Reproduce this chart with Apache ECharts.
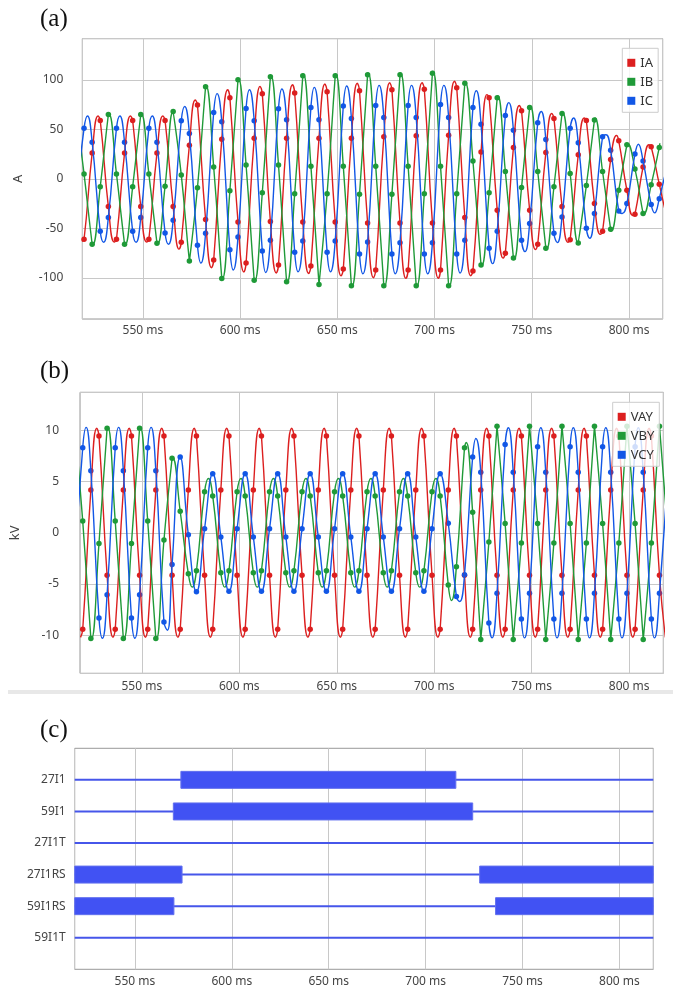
<!DOCTYPE html>
<html><head><meta charset="utf-8">
<script src="https://cdn.jsdelivr.net/npm/echarts@6/dist/echarts.min.js"></script>
<style>html,body{margin:0;padding:0;background:#fff}#c{width:673px;height:989px}</style>
</head><body><div id="c"></div>
<script>
// ---- sample clock (ms) shared by all analog channels ----
const sampleMs = [519.7,523.87,528.03,532.2,536.37,540.53,544.7,548.87,553.03,557.2,561.37,565.53,569.7,573.87,578.03,582.2,586.37,590.53,594.7,598.87,603.03,607.2,611.37,615.53,619.7,623.87,628.03,632.2,636.37,640.53,644.7,648.87,653.03,657.2,661.37,665.53,669.7,673.87,678.03,682.2,686.37,690.53,694.7,698.87,703.03,707.2,711.37,715.53,719.7,723.87,728.03,732.2,736.37,740.53,744.7,748.87,753.03,757.2,761.37,765.53,769.7,773.87,778.03,782.2,786.37,790.53,794.7,798.87,803.03,807.2,811.37,815.53];

// ---- (a) currents, A ----
const iaSamples = [-61,26,59,-28,-61,26,59,-28,-61,26,59,-28,
 -64,34,74.5,-41,-82,40,82,-43.5,-85,41,86,-43,
 -87,41,86.7,-43.5,-88,41,88,-43.5,-91,41,89,-44.5,
 -92,42.5,90,-44.5,-92,43.5,90.4,-44.5,-92,44,92,-39,
 -93,27,82,-31.7,-75,31.7,68.8,-31.7,-66,26.6,61,-28,
 -61.4,24.3,59,-25,-53,19.6,38.4,-11.5,-35.7,12,32.4,-5.4];
const ibSamples = [5,-66,-8,65,5,-66,-8,65,5,-65,-7.5,68,
 4,-83,-9,93,12,-100.5,-12,100,14,-102.5,-14,103,
 14,-104,-15,104,12.8,-106.6,-15,104,12.8,-108,-15.5,105,
 12.8,-108,-15.5,105,12.8,-108,-15,106.6,12.8,-108,-15,96.5,
 18,-87,-14,82,7.4,-80,-8.8,72,7.4,-70,-8,66,
 5.4,-64.8,-6.7,59.4,7.4,-51,-11.5,34.4,10,-35,-6,31.7];
const icSamples = [51,37,-53,-39,51,37,-53,-39,51,37,-54.6,-41.8,
 58.7,45.9,-67,-55,67,57.7,-71.5,-58.7,71,58.7,-72.8,-62,
 70.8,59.7,-74,-62.7,72,59.7,-74,-62.7,73.5,61,-76,-63.7,
 74,62,-76,-64.4,74,62,-76,-64.4,75,62,-76,-62,
 72,55,-70,-53,64,49,-62,-45,56.7,39.8,-55,-38.4,
 51,36.4,-50,-35,42.5,29,-32.4,-25,25,18,-26,-20];
// crests and troughs of the drawn curves [ms, A]
const iaPeaks = [[518.57,-63],[526.91,63.4],[535.24,-63.7],[543.57,63.4],[551.91,-63.7],[560.24,63.4],[568.57,-71],[576.91,79.6],[585.24,-89.7],[593.57,90],[601.91,-94],[610.24,93.4],[618.57,-95],[626.91,95],[635.24,-95.5],[643.57,95.8],[651.91,-98],[660.24,96.5],[668.57,-99.8],[676.91,97],[685.24,-100.5],[693.57,97],[701.91,-100.5],[710.24,98.5],[718.57,-97.8],[726.91,85],[735.24,-80],[743.57,74],[751.91,-71.5],[760.24,66],[768.57,-64],[776.91,61.4],[785.24,-56],[793.57,43.8],[801.91,-37],[810.24,34.4],[818.57,-32]];
const ibPeaks = [[515.83,66],[524.16,-66.5],[532.49,65.5],[540.83,-66.5],[549.16,65.5],[557.49,-66],[565.83,68],[574.16,-83.3],[582.49,93.5],[590.83,-101],[599.16,100.5],[607.49,-103],[615.83,104],[624.16,-104.5],[632.49,106],[640.83,-107],[649.16,106],[657.49,-108.6],[665.83,107],[674.16,-108.6],[682.49,107],[690.83,-108.6],[699.16,108.6],[707.49,-108.6],[715.83,97],[724.16,-88],[732.49,84],[740.83,-81.6],[749.16,73.5],[757.49,-71.5],[765.83,66.8],[774.16,-64.8],[782.49,61.4],[790.83,-52.6],[799.16,35.7],[807.49,-35.7],[815.83,36]];
const icPeaks = [[513.12,-63.5],[521.45,63.5],[529.78,-64],[538.12,63.5],[546.45,-64],[554.78,63.5],[563.12,-66],[571.45,73],[579.78,-85],[588.12,86],[596.45,-92],[604.78,90],[613.12,-94.5],[621.45,90.7],[629.78,-93.8],[638.12,92.4],[646.45,-93.8],[654.78,93.8],[663.12,-95.8],[671.45,94.4],[679.78,-95.8],[688.12,94.4],[696.45,-95.8],[704.78,94.4],[713.12,-95],[721.45,89],[729.78,-85.6],[738.12,77],[746.45,-73.5],[754.78,68],[763.12,-64.4],[771.45,61.4],[779.78,-60],[788.12,44.5],[796.45,-35],[804.78,35],[813.12,-34.4],[821.45,30]];

// ---- (b) voltages, kV ----
const vaySamples = [-9.4,4.17,9.45,-4.14,-9.4,4.17,9.45,-4.14,-9.4,4.17,9.45,-4.14,
 -9.4,4.17,9.45,-4.14,-9.4,4.17,9.45,-4.14,-9.4,4.17,9.45,-4.14,
 -9.4,4.17,9.45,-4.14,-9.4,4.17,9.45,-4.14,-9.4,4.17,9.45,-4.14,
 -9.4,4.17,9.45,-4.14,-9.4,4.17,9.45,-4.14,-9.4,4.17,9.45,-4.14,
 -9.4,4.17,9.45,-4.14,-9.4,4.17,9.45,-4.14,-9.4,4.17,9.45,-4.14,
 -9.4,4.17,9.45,-4.14,-9.4,4.17,9.45,-4.14,-9.4,4.17,9.45,-4.14];
const vbySamples = [1.14,-10.3,-1.04,10.2,1.14,-10.3,-1.04,10.2,1.14,-10.3,-0.7,7.26,
 2.1,-4.0,-3.7,4.0,3.6,-3.9,-3.7,4.0,3.6,-3.9,-3.7,4.0,
 3.6,-3.9,-3.7,4.0,3.6,-3.9,-3.7,4.0,3.6,-3.9,-3.7,4.0,
 3.6,-3.9,-3.7,4.0,3.6,-3.9,-3.7,4.0,3.6,-5.1,-3.3,8.3,
 2.0,-10.4,-0.9,10.4,0.9,-10.4,-1.0,10.4,0.9,-10.4,-1.0,10.4,
 0.9,-10.4,-1.0,10.4,0.9,-10.4,-1.0,10.4,0.9,-10.4,-1.0,10.4];
const vcySamples = [8.3,6.06,-8.3,-6.03,8.3,6.06,-8.3,-6.03,8.3,6.06,-8.7,-3.1,
 7.4,-0.2,-5.75,0.4,5.75,-0.4,-5.7,0.4,5.75,-0.4,-5.7,0.4,
 5.75,-0.4,-5.7,0.4,5.75,-0.4,-5.7,0.4,5.75,-0.4,-5.7,0.4,
 5.75,-0.4,-5.7,0.4,5.75,-0.4,-5.7,0.4,5.75,0.94,-6.2,-4.1,
 7.4,5.9,-8.8,-5.9,8.6,5.9,-8.4,-5.9,8.4,5.9,-8.4,-5.9,
 8.4,5.9,-8.4,-5.9,8.4,5.9,-8.4,-5.9,8.4,5.9,-8.4,-5.9];
const vayPeaks = [[518.57,-10.2],[526.91,10.2],[535.24,-10.2],[543.57,10.2],[551.91,-10.2],[560.24,10.2],[568.57,-10.2],[576.91,10.2],[585.24,-10.2],[593.57,10.2],[601.91,-10.2],[610.24,10.2],[618.57,-10.2],[626.91,10.2],[635.24,-10.2],[643.57,10.2],[651.91,-10.2],[660.24,10.2],[668.57,-10.2],[676.91,10.2],[685.24,-10.2],[693.57,10.2],[701.91,-10.2],[710.24,10.2],[718.57,-10.2],[726.91,10.2],[735.24,-10.2],[743.57,10.2],[751.91,-10.2],[760.24,10.2],[768.57,-10.2],[776.91,10.2],[785.24,-10.2],[793.57,10.2],[801.91,-10.2],[810.24,10.2],[818.57,-10.2]];
const vbyPeaks = [[515.83,10.35],[524.16,-10.35],[532.49,10.35],[540.83,-10.35],[549.16,10.35],[557.49,-10.35],[565.83,7.3],
 [575.85,-5.3],[584.18,5.3],[592.52,-5.3],[600.85,5.3],[609.18,-5.3],[617.52,5.3],[625.85,-5.3],[634.18,5.3],[642.52,-5.3],[650.85,5.3],[659.18,-5.3],[667.52,5.3],[675.85,-5.3],[684.18,5.3],[692.52,-5.3],[700.85,5.3],
 [708.87,-6.6],[716.4,8.8],
 [724.08,-10.45],[732.41,10.45],[740.75,-10.45],[749.08,10.45],[757.41,-10.45],[765.75,10.45],[774.08,-10.45],[782.41,10.45],[790.75,-10.45],[799.08,10.45],[807.41,-10.45],[815.75,10.45],[824.08,-10.45]];
const vcyPeaks = [[513.12,-10.28],[521.45,10.28],[529.78,-10.28],[538.12,10.28],[546.45,-10.28],[554.78,10.28],[563.12,-9.5],
 [713.03,-6.7],[721.37,9.2],
 [729.66,-10.25],[738.0,10.25],[746.33,-10.25],[754.66,10.25],[763.0,-10.25],[771.33,10.25],[779.66,-10.25],[788.0,10.25],[796.33,-10.25],[804.66,10.25],[813.0,-10.25],[821.33,10.25]];

// ---- (c) digital elements ----
const recStart = 518.9, recEnd = 817.5;
const digitalRows = ['', '27I1', '59I1', '27I1T', '27I1RS', '59I1RS', '59I1T', ''];
const digitalNames = ['27I1', '59I1', '27I1T', '27I1RS', '59I1RS', '59I1T'];
const digitalOn = [
  [[573.7, 715.6]],
  [[569.8, 724.3]],
  [],
  [[recStart, 574.3], [727.9, recEnd]],
  [[recStart, 570.1], [736.1, recEnd]],
  []
];

const RED = '#dc1f1f', GREEN = '#1f9a38', BLUE = '#1257e6';
const FONT = 'Noto Sans';

function curve(samples, peaks) {
  const pts = sampleMs.map((t, i) => [t, samples[i]]).concat(peaks);
  pts.sort((a, b) => a[0] - b[0]);
  return pts;
}
function dots(samples) { return sampleMs.map((t, i) => [t, samples[i]]); }

function analog(name, color, samples, peaks, gi) {
  return [
    { name, type: 'line', xAxisIndex: gi, yAxisIndex: gi, data: curve(samples, peaks),
      smooth: 0.5, showSymbol: false, lineStyle: { color, width: 1.4 }, itemStyle: { color },
      silent: true, clip: true },
    { name, type: 'scatter', xAxisIndex: gi, yAxisIndex: gi, data: dots(samples),
      symbolSize: 5.5, itemStyle: { color, opacity: 1 }, silent: true }
  ];
}

const axisLbl = { color: '#444', fontSize: 12, fontFamily: FONT };
function xAxisFor(gi, min, max, margin) {
  return { type: 'value', gridIndex: gi, min, max, splitNumber: 6,
    axisLine: { show: false }, axisTick: { show: false },
    splitLine: { show: true, lineStyle: { color: '#c8c8c8', width: 1 } },
    axisLabel: Object.assign({}, axisLbl, { margin,
      formatter: v => (Math.abs(v % 50) < 1e-6 ? v + ' ms' : '') }) };
}
function yAxisFor(gi, min, max, step, name, margin, nameGap) {
  return { type: 'value', gridIndex: gi, min, max, splitNumber: 5,
    name, nameLocation: 'middle', nameGap, nameRotate: 90,
    nameTextStyle: { color: '#444', fontSize: 13, fontFamily: FONT },
    axisLine: { show: false }, axisTick: { show: false },
    splitLine: { show: true, lineStyle: { color: '#c8c8c8', width: 1 } },
    axisLabel: Object.assign({}, axisLbl, { margin,
      formatter: v => (Math.abs(v % step) < 1e-6 ? String(v) : '') }) };
}
function legendFor(names, left, top) {
  return { data: names, orient: 'vertical', left, top, icon: 'rect',
    itemWidth: 8, itemHeight: 8, itemGap: 4, padding: [7, 5, 4, 5],
    backgroundColor: 'rgba(255,255,255,0.8)', borderColor: '#cccccc', borderWidth: 1,
    textStyle: { color: '#333', fontSize: 13, fontFamily: FONT, lineHeight: 15 },
    selectedMode: false };
}

const barData = [], lineData = [];
digitalNames.forEach((n, i) => {
  lineData.push([recStart, recEnd, n]);
  digitalOn[i].forEach(seg => barData.push([seg[0], seg[1], n]));
});

const chart = echarts.init(document.getElementById('c'), null, { renderer: 'canvas' });
chart.setOption({
  animation: false,
  backgroundColor: '#fff',
  grid: [
    { left: 82.3, top: 38.7, width: 580.4, height: 280.3, show: true, borderColor: '#999', borderWidth: 1, backgroundColor: 'transparent' },
    { left: 80, top: 392.3, width: 583.3, height: 281, show: true, borderColor: '#999', borderWidth: 1, backgroundColor: 'transparent' },
    { left: 74.7, top: 748.3, width: 578.6, height: 221, show: true, borderColor: '#999', borderWidth: 1, backgroundColor: 'transparent' }
  ],
  xAxis: [ xAxisFor(0, 518.8, 817.3, 6), xAxisFor(1, 518.3, 817.5, 7), xAxisFor(2, recStart, recEnd, 6) ],
  yAxis: [
    yAxisFor(0, -141.5, 141.5, 50, 'A', 19, 58),
    yAxisFor(1, -13.7, 13.7, 5, 'kV', 21, 58),
    { type: 'category', gridIndex: 2, data: digitalRows, inverse: true, boundaryGap: false,
      axisLine: { show: false }, axisTick: { show: false }, splitLine: { show: false },
      axisLabel: Object.assign({}, axisLbl, { margin: 9 }) }
  ],
  legend: [ legendFor(['IA', 'IB', 'IC'], 622.3, 48.3), legendFor(['VAY', 'VBY', 'VCY'], 612.7, 402.3) ],
  graphic: [
    { type: 'text', left: 40, top: 7, style: { text: '(a)', font: '25px "Liberation Serif"', fill: '#111' } },
    { type: 'text', left: 40, top: 359, style: { text: '(b)', font: '25px "Liberation Serif"', fill: '#111' } },
    { type: 'text', left: 40, top: 718, style: { text: '(c)', font: '25px "Liberation Serif"', fill: '#111' } },
    { type: 'rect', left: 8, top: 690, shape: { width: 665, height: 4 }, style: { fill: '#e8e8e8' } }
  ],
  series: [
    ...analog('IA', RED, iaSamples, iaPeaks, 0),
    ...analog('IB', GREEN, ibSamples, ibPeaks, 0),
    ...analog('IC', BLUE, icSamples, icPeaks, 0),
    ...analog('VAY', RED, vaySamples, vayPeaks, 1),
    ...analog('VBY', GREEN, vbySamples, vbyPeaks, 1),
    ...analog('VCY', BLUE, vcySamples, vcyPeaks, 1),
    { type: 'custom', xAxisIndex: 2, yAxisIndex: 2, data: lineData, encode: { x: [0, 1], y: 2 }, silent: true,
      renderItem: (p, api) => {
        const a = api.coord([api.value(0), api.value(2)]);
        const b = api.coord([api.value(1), api.value(2)]);
        return { type: 'line', shape: { x1: a[0], y1: a[1], x2: b[0], y2: b[1] },
          style: { stroke: '#4656ea', lineWidth: 2 } };
      } },
    { type: 'custom', xAxisIndex: 2, yAxisIndex: 2, data: barData, encode: { x: [0, 1], y: 2 }, silent: true,
      renderItem: (p, api) => {
        const a = api.coord([api.value(0), api.value(2)]);
        const b = api.coord([api.value(1), api.value(2)]);
        return { type: 'rect', shape: { x: a[0], y: a[1] - 8.5, width: b[0] - a[0], height: 17 },
          style: { fill: '#4152f3', stroke: '#6270ee', lineWidth: 1 } };
      } }
  ]
});
</script></body></html>
